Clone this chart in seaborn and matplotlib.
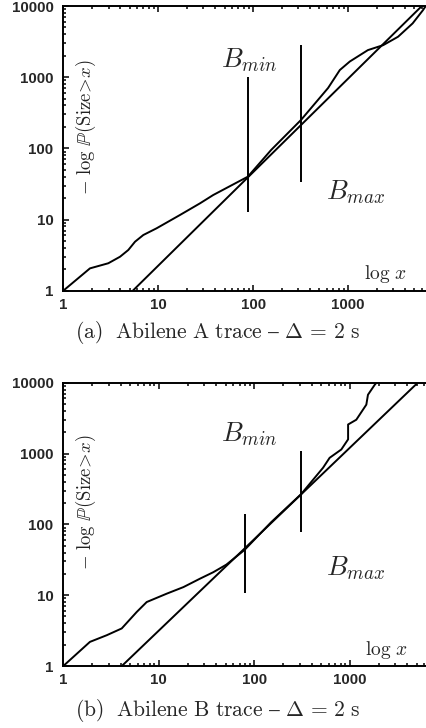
import numpy as np
import pandas as pd
import matplotlib
matplotlib.use("Agg")
import matplotlib.pyplot as plt
import seaborn as sns

# ---------------- data ----------------
# Abilene A: empirical curve
a_x = [1, 1.91, 2.98, 3.96, 4.84, 5.7, 6.97, 9.6, 17, 27.6, 38, 88, 155, 320,
       617, 820, 1045, 1620, 2350, 3370, 4800, 6150, 6600]
a_y = [1, 2.06, 2.43, 3.0, 3.73, 4.88, 6.06, 7.52, 11.6, 16.9, 22.1, 40, 95, 251,
       705, 1260, 1660, 2400, 2820, 3700, 5700, 8700, 10000]
# Abilene A: power-law fit line
a_fit_x = [5.4, 6000]
a_fit_y = [1, 10000]
# Abilene A: B_min / B_max markers
a_bmin_x, a_bmin_y = 88, [12.6, 1000]
a_bmax_x, a_bmax_y = 320, [34, 2800]

# Abilene B: empirical curve
b_x = [1, 1.9, 2.85, 4.09, 5.87, 7.47, 12.1, 18.1, 27, 37.2, 51, 79, 150, 310,
       525, 615, 815, 960, 960, 1170, 1490, 1550, 1820, 1900]
b_y = [1, 2.19, 2.72, 3.39, 5.79, 8.0, 10.5, 13, 17.1, 21.1, 27, 43.5, 107, 268,
       630, 870, 1140, 1585, 2570, 3000, 4900, 6760, 9300, 10000]
b_fit_x = [4.1, 5150]
b_fit_y = [1, 10000]
b_bmin_x, b_bmin_y = 79, [10.7, 142]
b_bmax_x, b_bmax_y = 310, [77, 1070]

x_ticks = [1, 10, 100, 1000]
x_tick_labels = ["1", "10", "100", "1000"]
y_ticks = [1, 10, 100, 1000, 10000]
y_tick_labels = ["1", "10", "100", "1000", "10000"]

captions = [r"$\mathrm{(a)\ \ Abilene\ A\ trace}\ \endash\ \Delta\,=\,2\ \mathrm{s}$",
            r"$\mathrm{(b)\ \ Abilene\ B\ trace}\ \endash\ \Delta\,=\,2\ \mathrm{s}$"]
ylabel = r"$-\ \log\,\mathbb{P}(\mathrm{Size}\!>\!x)$"

# ---------------- style ----------------
sns.set_style("ticks")
plt.rcParams["font.family"] = ["Liberation Sans", "DejaVu Sans"]
plt.rcParams["mathtext.fontset"] = "cm"

fig = plt.figure(figsize=(4.26, 7.28), dpi=100)

panels = [
    dict(pos=[63.3/426, 1-290.7/728, (426-63.3)/426, (290.7-6)/728],
         xmax=6637, cx=a_x, cy=a_y, fx=a_fit_x, fy=a_fit_y,
         v=[(a_bmin_x, a_bmin_y), (a_bmax_x, a_bmax_y)],
         bmin=(0.512, 0.786), bmax=(0.807, 0.319), logx=(0.889, 0.041),
         ylab=(0.0626, 0.573), cap_y=1-333/728, cap=captions[0]),
    dict(pos=[63.3/426, 1-666/728, (426-63.3)/426, (666-382.7)/728],
         xmax=6281, cx=b_x, cy=b_y, fx=b_fit_x, fy=b_fit_y,
         v=[(b_bmin_x, b_bmin_y), (b_bmax_x, b_bmax_y)],
         bmin=(0.512, 0.792), bmax=(0.807, 0.321), logx=(0.890, 0.039),
         ylab=(0.0626, 0.577), cap_y=1-710/728, cap=captions[1]),
]

lw = 1.4
for p in panels:
    ax = fig.add_axes(p["pos"])
    ax.set_xscale("log")
    ax.set_yscale("log")
    df = pd.DataFrame({"x": p["cx"], "y": p["cy"]})
    sns.lineplot(data=df, x="x", y="y", ax=ax, color="black", lw=lw,
                 estimator=None, sort=False)
    dff = pd.DataFrame({"x": p["fx"], "y": p["fy"]})
    sns.lineplot(data=dff, x="x", y="y", ax=ax, color="black", lw=lw,
                 estimator=None, sort=False)
    for vx, vy in p["v"]:
        ax.vlines(vx, vy[0], vy[1], color="black", lw=lw)
    ax.set_xlim(1, p["xmax"])
    ax.set_ylim(1, 10000)
    ax.set_xticks(x_ticks)
    ax.set_xticklabels(x_tick_labels)
    ax.set_yticks(y_ticks)
    ax.set_yticklabels(y_tick_labels)
    ax.set_xlabel("")
    ax.set_ylabel("")
    for lab in ax.get_xticklabels() + ax.get_yticklabels():
        lab.set_fontweight("bold")
        lab.set_fontsize(10.8)
    ax.tick_params(which="both", direction="in", top=True, right=False,
                   width=1.1, color="black")
    ax.tick_params(which="major", length=4)
    ax.tick_params(which="minor", length=2.2)
    ax.tick_params(axis="y", which="major", pad=7)
    ax.tick_params(axis="x", which="major", pad=5)
    for s in ["left", "bottom", "top"]:
        ax.spines[s].set_linewidth(1.4)
        ax.spines[s].set_color("black")
    ax.spines["right"].set_visible(False)

    ax.text(*p["bmin"], r"$B_{min}$", transform=ax.transAxes, fontsize=19.5,
            ha="center", va="baseline")
    ax.text(*p["bmax"], r"$B_{max}$", transform=ax.transAxes, fontsize=19.5,
            ha="center", va="baseline")
    ax.text(*p["logx"], r"$\log\,x$", transform=ax.transAxes, fontsize=14,
            ha="center", va="baseline")
    ax.text(*p["ylab"], ylabel, transform=ax.transAxes, fontsize=13.5,
            rotation=90, ha="center", va="center", color="#222222")
    fig.text(218/426, p["cap_y"], p["cap"], fontsize=15.5, ha="center", va="center")

fig.savefig("out.png", dpi=100)
